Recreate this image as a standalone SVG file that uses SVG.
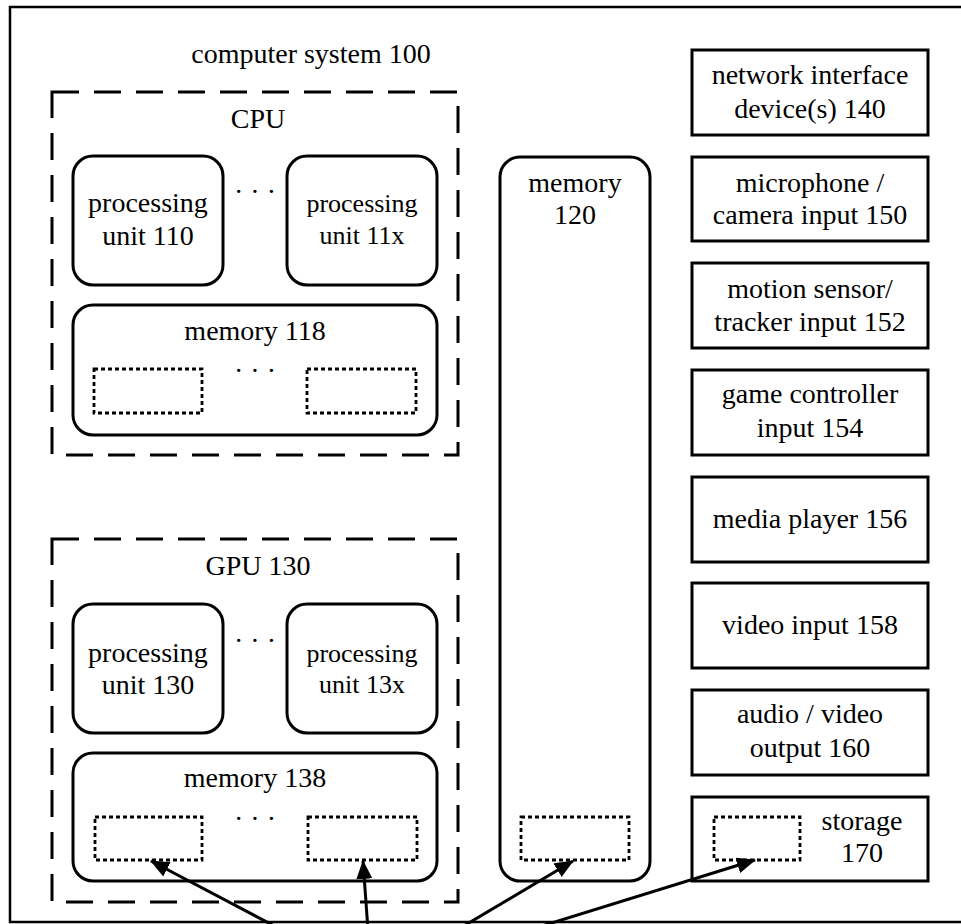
<svg xmlns="http://www.w3.org/2000/svg" width="961" height="924" viewBox="0 0 961 924">
<defs>
<style>
text{font-family:"Liberation Serif","Times New Roman",serif;font-size:28px;fill:#000;text-anchor:middle}
.sm{font-size:26px}
.outer{fill:none;stroke:#000;stroke-width:2.5}
.group{fill:none;stroke:#000;stroke-width:3;stroke-dasharray:27 15}
.rbox{fill:none;stroke:#000;stroke-width:3}
.sbox{fill:none;stroke:#000;stroke-width:3}
.dbox{fill:none;stroke:#000;stroke-width:2.8;stroke-dasharray:4 3}
.conn{fill:none;stroke:#000;stroke-width:3}
</style>
<marker id="ah" markerUnits="userSpaceOnUse" markerWidth="20" markerHeight="18" refX="18" refY="8" orient="auto">
<path d="M0,0 L19,8 L0,16 z" fill="#000"/>
</marker>
</defs>
<rect width="961" height="924" fill="#fff"/>
<g id="system">
<rect class="outer" x="10" y="7" width="960" height="915"/>
<text x="311" y="63">computer system 100</text>
</g>
<g id="cpu">
<rect class="group" x="52" y="92" width="406" height="363"/>
<text x="258" y="128">CPU</text>
</g>
<g id="pu110">
<rect class="rbox" x="73" y="156" width="150" height="129" rx="20"/>
<text x="148" y="212">processing</text>
<text x="148" y="245">unit 110</text>
</g>
<text x="255" y="201">· · ·</text>
<g id="pu11x">
<rect class="rbox" x="287" y="156" width="150" height="129" rx="20"/>
<text class="sm" x="362" y="212">processing</text>
<text class="sm" x="362" y="244">unit 11x</text>
</g>
<g id="mem118">
<rect class="rbox" x="73" y="305" width="364" height="130" rx="20"/>
<text x="255" y="340">memory 118</text>
<rect class="dbox" x="94" y="369" width="108" height="44"/>
<text x="255" y="380">· · ·</text>
<rect class="dbox" x="307" y="369" width="109" height="44"/>
</g>
<g id="gpu">
<rect class="group" x="52" y="539" width="406" height="363"/>
<text x="258" y="575">GPU 130</text>
</g>
<g id="pu130">
<rect class="rbox" x="73" y="604" width="150" height="129" rx="20"/>
<text x="148" y="662">processing</text>
<text x="148" y="694">unit 130</text>
</g>
<text x="255" y="650">· · ·</text>
<g id="pu13x">
<rect class="rbox" x="287" y="604" width="150" height="129" rx="20"/>
<text class="sm" x="362" y="662">processing</text>
<text class="sm" x="362" y="693">unit 13x</text>
</g>
<g id="mem138">
<rect class="rbox" x="73" y="753" width="364" height="128" rx="20"/>
<text x="255" y="787">memory 138</text>
<rect class="dbox" x="95" y="817" width="107" height="43"/>
<text x="255" y="828">· · ·</text>
<rect class="dbox" x="308" y="817" width="109" height="43"/>
</g>
<g id="mem120">
<rect class="rbox" x="500" y="157" width="150" height="724" rx="20"/>
<text x="575" y="192">memory</text>
<text x="575" y="224">120</text>
<rect class="dbox" x="521" y="817" width="108" height="43"/>
</g>
<g id="nic140">
<rect class="sbox" x="692" y="50" width="236" height="85"/>
<text x="810" y="84">network interface</text>
<text x="810" y="118">device(s) 140</text>
</g>
<g id="mic150">
<rect class="sbox" x="692" y="157" width="236" height="84"/>
<text x="810" y="192">microphone /</text>
<text x="810" y="224">camera input 150</text>
</g>
<g id="motion152">
<rect class="sbox" x="692" y="263" width="236" height="85"/>
<text x="810" y="298">motion sensor/</text>
<text x="810" y="331">tracker input 152</text>
</g>
<g id="game154">
<rect class="sbox" x="692" y="370" width="236" height="85"/>
<text x="810" y="403">game controller</text>
<text x="810" y="437">input 154</text>
</g>
<g id="media156">
<rect class="sbox" x="692" y="477" width="236" height="85"/>
<text x="810" y="528">media player 156</text>
</g>
<g id="video158">
<rect class="sbox" x="692" y="583" width="236" height="85"/>
<text x="810" y="634">video input 158</text>
</g>
<g id="av160">
<rect class="sbox" x="692" y="690" width="236" height="85"/>
<text x="810" y="723">audio / video</text>
<text x="810" y="757">output 160</text>
</g>
<g id="storage170">
<rect class="sbox" x="692" y="797" width="236" height="84"/>
<rect class="dbox" x="714" y="817" width="86" height="43"/>
<text x="862" y="830">storage</text>
<text x="862" y="862">170</text>
</g>
<g id="connectors">
<line class="conn" x1="282" y1="930" x2="151" y2="861" marker-end="url(#ah)"/>
<line class="conn" x1="368" y1="930" x2="363" y2="861" marker-end="url(#ah)"/>
<line class="conn" x1="457" y1="930" x2="573" y2="861" marker-end="url(#ah)"/>
<line class="conn" x1="529" y1="930" x2="755" y2="860" marker-end="url(#ah)"/>
</g>
</svg>
